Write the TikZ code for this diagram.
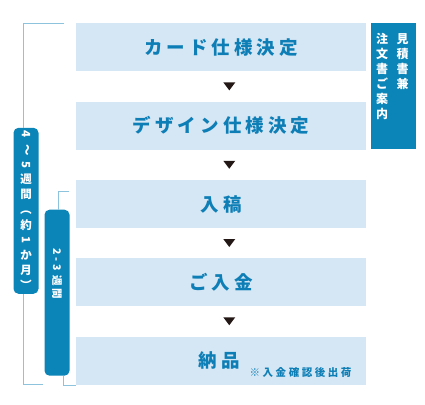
\documentclass[tikz,border=0pt]{standalone}
\usepackage{fontspec}
\usepackage{graphicx}
\IfFontExistsTF{Noto Sans CJK JP Black}
	{\newfontfamily\jpfont{Noto Sans CJK JP Black}}
	{\IfFontExistsTF{Noto Sans CJK JP Bold}
		{\newfontfamily\jpfont{Noto Sans CJK JP Bold}}
		{\newfontfamily\jpfont{Noto Sans CJK JP}[FakeBold=3]}}
\usetikzlibrary{calc,positioning}
\definecolor{stepFill}{HTML}{D5E6F4}
\definecolor{stepText}{HTML}{0E7FB6}
\definecolor{pillBlue}{HTML}{0B84B8}
\definecolor{bracketBlue}{HTML}{8DC3DD}
\definecolor{triBlack}{HTML}{231815}
\newcommand{\rotc}[1]{\rotatebox[origin=c]{-90}{#1}}
\tikzset{
myStep/.style={
	rectangle, fill=stepFill, inner sep=0pt,
	minimum width=290pt, minimum height=48pt, text=stepText,
	font=\jpfont\fontsize{18.5}{18.5}\selectfont\addfontfeature{LetterSpace=22}
}
, myNote/.style={
	inner sep=0pt, text=stepText,
	font=\jpfont\fontsize{10.5}{10.5}\selectfont\addfontfeature{LetterSpace=24}
}
, myPill/.style={
	rectangle, rounded corners=5pt, fill=pillBlue, inner sep=0pt,
	minimum width=25pt, minimum height=166pt, text=white, align=center,
	font=\jpfont\fontsize{11.5}{15.1}\selectfont
}
, myPillText/.style={
	inner sep=0pt, text=white,
	font=\jpfont\fontsize{10.5}{10.5}\selectfont\addfontfeature{LetterSpace=25}
}
, myInfo/.style={
	rectangle, fill=pillBlue, inner sep=0pt,
	minimum width=45pt, minimum height=126pt
}
, myInfoText/.style={
	inner sep=0pt, text=white, align=center,
	font=\jpfont\fontsize{12}{15}\selectfont
}
% markers and brackets
, myTri/.style={fill=triBlack}
, myBracket/.style={draw=bracketBlue, line width=0.9pt}
}
\begin{document}
\begin{tikzpicture}[x=1pt,y=-1pt]
	\useasboundingbox (0,0) rectangle (425,404);
	% steps
	\node[myStep] (s1) at (221,47.2)  {カード仕様決定};
	\node[myStep] (s2) at (221,125.5) {デザイン仕様決定};
	\node[myStep] (s3) at (221,204)   {入稿};
	\node[myStep] (s4) at (221,282)   {ご入金};
	\node[myStep] (s5) at (221,360.5) {};
	\node[myStep, minimum width=0pt, minimum height=0pt] (s5t) at (219,360.5) {納品};
	\node[myNote, anchor=south west] (note) at (249.5,377.5) {※入金確認後出荷};
	% markers
	\foreach \a/\b in {s1/s2,s2/s3,s3/s4,s4/s5}
		\fill[myTri] ($(\a.south)!0.5!(\b.north)+(8.3,4)$) -- ++(-6,-8) -- ++(12,0) -- cycle;
	% quotation box
	\node[myInfo] (info) at (393.2,86.3) {};
	\node[myInfoText, anchor=north] (infoR) at (402.5,33.5) {見\\積\\書\\兼};
	\node[myInfoText, anchor=north] (infoL) at (382,33.5) {注\\文\\書\\ご\\案\\内};
	% periods
	\node[myPill] (p1) at (26,210.8)
		{\rotc{4}\\\rotc{～}\\\rotc{5}\\週\\間\\\rotc{（}\\約\\\rotc{1}\\か\\月\\\rotc{）}};
	\node[myPill] (p2) at (57,292.7) {};
	\node[myPillText, rotate=-90] (p2t) at (57,274) {2-3 週間};
	% brackets
	\coordinate (b1top) at (64,23.5);
	\coordinate (b1bot) at (42.7,384.5);
	\coordinate (b1x) at (23.5,0);
	\coordinate (b2top) at (69.3,191.7);
	\coordinate (b2bot) at (76,385.3);
	\coordinate (b2x) at (58.7,0);
	\coordinate (b2y) at (63.3,0);
	\draw[myBracket] (b1top) -| (b1x |- p1.north);
	\draw[myBracket] (b1x |- p1.south) |- (b1bot);
	\draw[myBracket] (b2top) -| (b2x |- p2.north);
	\draw[myBracket] (b2y |- p2.south) |- (b2bot);
\end{tikzpicture}
\end{document}
